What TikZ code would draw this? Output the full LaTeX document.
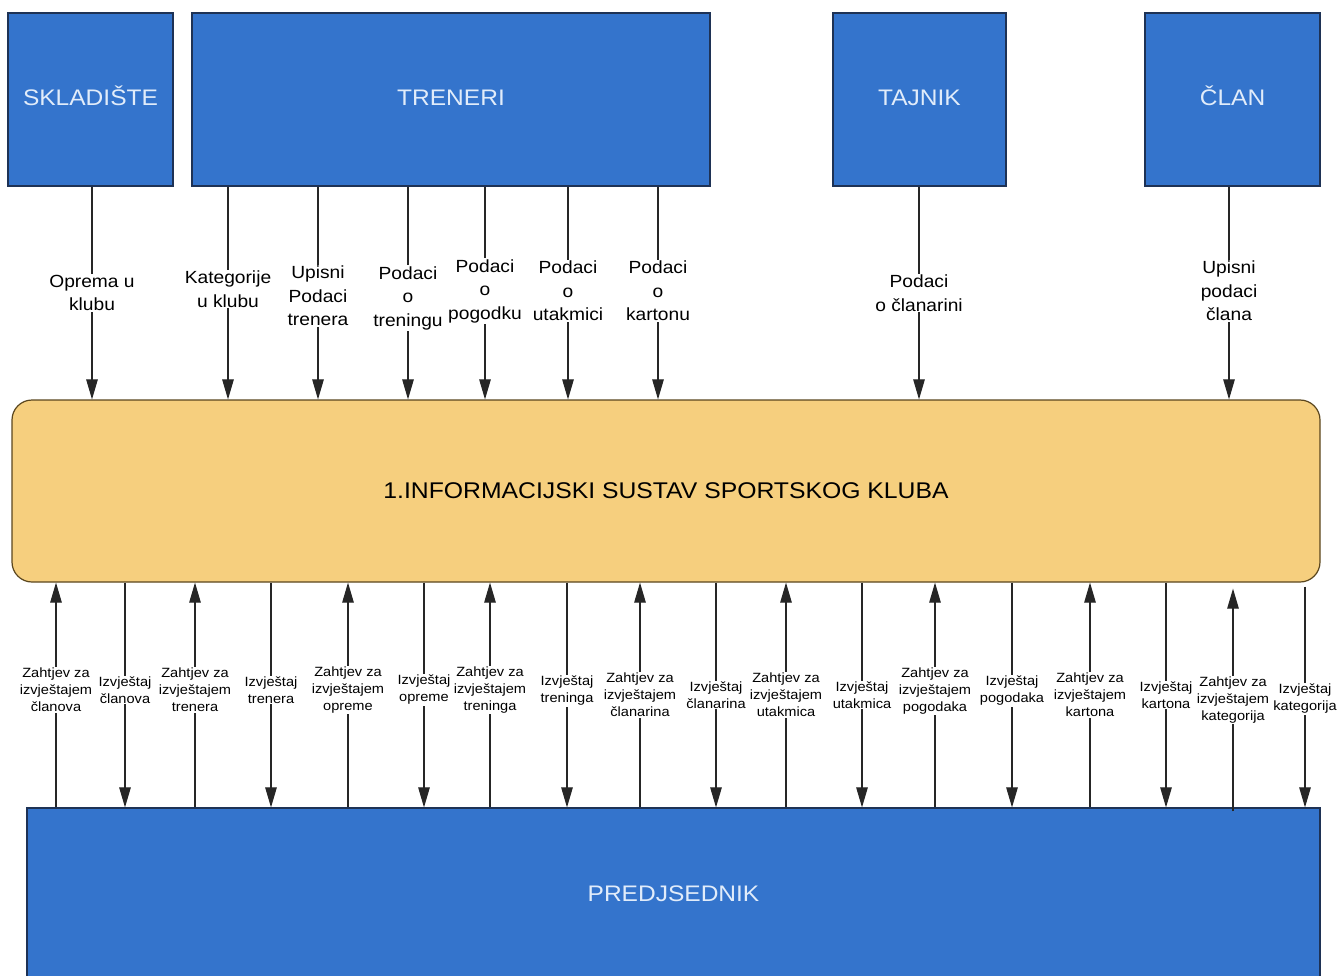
\documentclass[tikz,border=0pt]{standalone}
\usepackage{fontspec}
\setmainfont{Liberation Sans}[FakeStretch=1.09]
\usetikzlibrary{arrows.meta}

\definecolor{boxblue}{RGB}{52,116,204}
\definecolor{boxline}{RGB}{30,50,85}
\definecolor{boxtext}{RGB}{225,236,250}
\definecolor{sysfill}{RGB}{246,207,126}
\definecolor{sysline}{RGB}{90,70,30}

\begin{document}
\begin{tikzpicture}[x=1pt,y=-1pt,
  actor/.style={rectangle,draw=boxline,line width=1.2pt,fill=boxblue,text=boxtext,inner sep=0pt,text height=11.5pt,text depth=0pt,font=\fontsize{22.5}{27}\selectfont},
  process/.style={rectangle,rounded corners=20pt,draw=sysline,line width=1.2pt,fill=sysfill,inner sep=0pt,font=\fontsize{22.7}{27}\selectfont},
  flow/.style={draw=black!85,line width=1.1pt,-{Triangle[length=20pt,width=11.5pt]}},
  tlabel/.style={fill=white,align=center,inner sep=1pt,font=\fontsize{17.6}{23.5}\selectfont},
  blabel/.style={fill=white,align=center,inner sep=1pt,font=\fontsize{13.4}{17}\selectfont}]

  \useasboundingbox (0,0) rectangle (1340,976);

  % external entities and the process
  \node[actor,minimum width=165pt,minimum height=173pt] (skladiste) at (90.5,99.5) {SKLADIŠTE};
  \node[actor,minimum width=518pt,minimum height=173pt] (treneri) at (451,99.5) {TRENERI};
  \node[actor,minimum width=173pt,minimum height=173pt] (tajnik) at (919.5,99.5) {TAJNIK};
  \node[actor,minimum width=175pt,minimum height=173pt] (clan) at (1232.5,99.5) {ČLAN};
  \node[process,minimum width=1308pt,minimum height=182pt] (sustav) at (666,491) {1.INFORMACIJSKI SUSTAV SPORTSKOG KLUBA};
  \node[actor,minimum width=1293pt,minimum height=176pt] (predjsednik) at (673.5,896) {PREDJSEDNIK};

  % inputs
  \draw[flow] (skladiste.south -| 92,0) -- node[tlabel] {Oprema u\\klubu} (sustav.north -| 92,0);
  \draw[flow] (treneri.south -| 228,0) -- node[tlabel,yshift=4pt] {Kategorije\\u klubu} (sustav.north -| 228,0);
  \draw[flow] (treneri.south -| 318,0) -- node[tlabel,yshift=-3pt] {Upisni\\Podaci\\trenera} (sustav.north -| 318,0);
  \draw[flow] (treneri.south -| 408,0) -- node[tlabel,yshift=-5pt] {Podaci\\o\\treningu} (sustav.north -| 408,0);
  \draw[flow] (treneri.south -| 485,0) -- node[tlabel,yshift=2pt] {Podaci\\o\\pogodku} (sustav.north -| 485,0);
  \draw[flow] (treneri.south -| 568,0) -- node[tlabel,yshift=2pt] {Podaci\\o\\utakmici} (sustav.north -| 568,0);
  \draw[flow] (treneri.south -| 658,0) -- node[tlabel,yshift=2pt] {Podaci\\o\\kartonu} (sustav.north -| 658,0);
  \draw[flow] (tajnik.south -| 919,0) -- node[tlabel] {Podaci\\o članarini} (sustav.north -| 919,0);
  \draw[flow] (clan.south -| 1229,0) -- node[tlabel,yshift=2pt] {Upisni\\podaci\\člana} (sustav.north -| 1229,0);

  % requests and reports
  \draw[flow] (predjsednik.north -| 56,0) -- node[blabel,yshift=5pt] {Zahtjev za\\izvještajem\\članova} (sustav.south -| 56,0);
  \draw[flow] (sustav.south -| 125,0) -- node[blabel,yshift=5pt] {Izvještaj\\članova} (predjsednik.north -| 125,0);
  \draw[flow] (predjsednik.north -| 195,0) -- node[blabel,yshift=5pt] {Zahtjev za\\izvještajem\\trenera} (sustav.south -| 195,0);
  \draw[flow] (sustav.south -| 271,0) -- node[blabel,yshift=5pt] {Izvještaj\\trenera} (predjsednik.north -| 271,0);
  \draw[flow] (predjsednik.north -| 348,0) -- node[blabel,yshift=5pt] {Zahtjev za\\izvještajem\\opreme} (sustav.south -| 348,0);
  \draw[flow] (sustav.south -| 424,0) -- node[blabel,yshift=5pt] {Izvještaj\\opreme} (predjsednik.north -| 424,0);
  \draw[flow] (predjsednik.north -| 490,0) -- node[blabel,yshift=5pt] {Zahtjev za\\izvještajem\\treninga} (sustav.south -| 490,0);
  \draw[flow] (sustav.south -| 567,0) -- node[blabel,yshift=4pt] {Izvještaj\\treninga} (predjsednik.north -| 567,0);
  \draw[flow] (predjsednik.north -| 640,0) -- node[blabel] {Zahtjev za\\izvještajem\\članarina} (sustav.south -| 640,0);
  \draw[flow] (sustav.south -| 716,0) -- node[blabel] {Izvještaj\\članarina} (predjsednik.north -| 716,0);
  \draw[flow] (predjsednik.north -| 786,0) -- node[blabel] {Zahtjev za\\izvještajem\\utakmica} (sustav.south -| 786,0);
  \draw[flow] (sustav.south -| 862,0) -- node[blabel] {Izvještaj\\utakmica} (predjsednik.north -| 862,0);
  \draw[flow] (predjsednik.north -| 935,0) -- node[blabel,yshift=4pt] {Zahtjev za\\izvještajem\\pogodaka} (sustav.south -| 935,0);
  \draw[flow] (sustav.south -| 1012,0) -- node[blabel,yshift=4pt] {Izvještaj\\pogodaka} (predjsednik.north -| 1012,0);
  \draw[flow] (predjsednik.north -| 1090,0) -- node[blabel] {Zahtjev za\\izvještajem\\kartona} (sustav.south -| 1090,0);
  \draw[flow] (sustav.south -| 1166,0) -- node[blabel] {Izvještaj\\kartona} (predjsednik.north -| 1166,0);
  \draw[flow,shorten <=-4pt,shorten >=6pt] (predjsednik.north -| 1233,0) -- node[blabel,yshift=-5pt] {Zahtjev za\\izvještajem\\kategorija} (sustav.south -| 1233,0);
  \draw[flow,shorten <=4pt] (sustav.south -| 1305,0) -- node[blabel,yshift=-4pt] {Izvještaj\\kategorija} (predjsednik.north -| 1305,0);
\end{tikzpicture}
\end{document}
